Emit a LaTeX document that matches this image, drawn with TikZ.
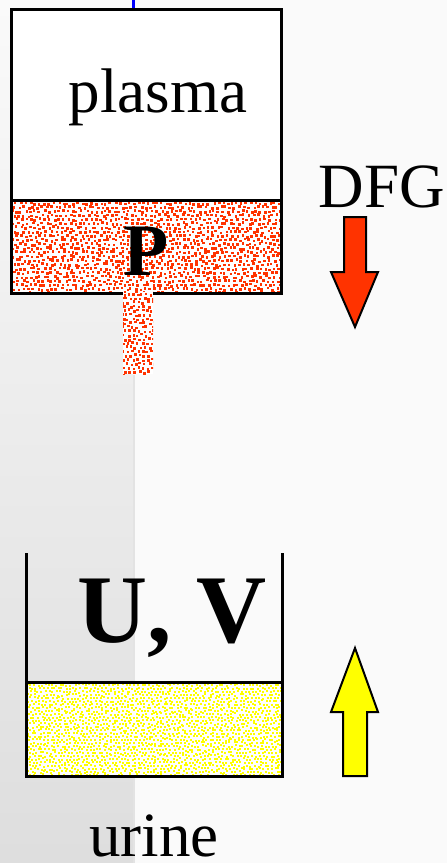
\documentclass[tikz,border=0pt]{standalone}
\usepackage{fontspec}
\setmainfont{Liberation Serif}
\usepackage{tikz}
\usetikzlibrary{positioning}
\definecolor{rossoP}{HTML}{FF3300}
\definecolor{gialloU}{HTML}{FFFF00}
\definecolor{fondo}{HTML}{FAFAFA}

% puntinato casuale: #1,#2 angolo; #3,#4 colonne/righe; #5 passo; #6 lato; #7 colore
\newcommand{\puntini}[7]{%
  \foreach \i in {0,...,#3}{
    \foreach \j in {0,...,#4}{
      \pgfmathsetmacro\px{#1+(\i+0.6*rnd-0.3+0.5*mod(\j,2))*#5}
      \pgfmathsetmacro\py{#2+(\j+0.6*rnd-0.3)*#5*0.87}
      \fill[#7] (\px,\py) rectangle ++(#6,#6);
    }}}

\begin{document}
\begin{tikzpicture}[x=1pt, y=-1pt,
    testo/.style={anchor=base, inner sep=0pt, font=\fontsize{63}{63}\selectfont},
    bordo/.style={draw=black, line width=3pt},
    freccia/.style={draw=black, line width=2pt, line join=miter}]

\useasboundingbox (0,0) rectangle (447,863);
\pgfmathsetseed{12}

% Sfondo
\fill[fondo] (0,0) rectangle (447,863);
\shade[top color=fondo, bottom color=black!13] (0,0) rectangle (133,863);
\draw[black!11, line width=2pt] (134,375) -- (134,863);
\draw[blue, line width=3pt] (133,0) -- (133,10);

% Plasma
\fill[white] (11,9) rectangle (281,293);
\begin{scope}
    \clip (11,200) rectangle (281,293);
    \fill[white] (11,200) rectangle (281,293);
    \puntini{8}{198}{58}{23}{4.7}{2.6}{rossoP}
\end{scope}
\draw[bordo] (11,9) rectangle (281,293);
\draw[bordo] (11,200) -- (281,200);
\node[testo] (plasma) at (158,112) {plasma};
\node[testo, font=\fontsize{74}{74}\selectfont\bfseries] (P) at (146,275) {P};

% Filtrato
\begin{scope}
    \clip (123,291) rectangle (153,374);
    \fill[white] (123,291) rectangle (153,374);
    \puntini{120}{289}{7}{21}{4.7}{2.6}{rossoP}
\end{scope}

% DFG
\node[testo] (dfg) at (382,207) {DFG};
\draw[freccia, fill=rossoP] (344,217) -- (366,217) -- (366,272) -- (378,272)
    -- (355,327) -- (331,272) -- (344,272) -- cycle;

% Urine
\begin{scope}
    \clip (27,683) rectangle (281,775);
    \fill[white] (27,683) rectangle (281,775);
    \puntini{24}{681}{70}{30}{3.7}{2.0}{gialloU}
\end{scope}
\draw[bordo] (26,553) -- (26,776) -- (282,776) -- (282,553);
\draw[bordo] (26,682) -- (282,682);
\node[testo, font=\fontsize{97}{97}\selectfont\bfseries] (uv) at (172,642) {U, V};
\node[testo] (urine) at (154,856) {urine};
\draw[freccia, fill=gialloU] (355,648) -- (378,712) -- (367,712) -- (367,776)
    -- (343,776) -- (343,712) -- (331,712) -- cycle;

\end{tikzpicture}
\end{document}
